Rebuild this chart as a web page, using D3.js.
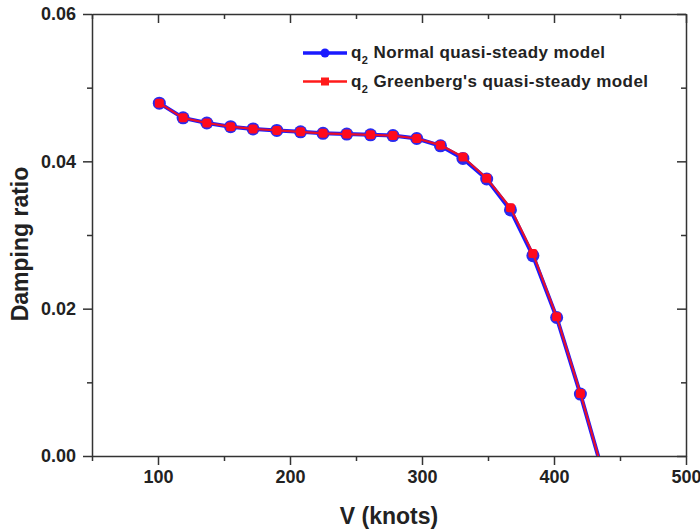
<!DOCTYPE html>
<html>
<head>
<meta charset="utf-8">
<script src="https://cdn.jsdelivr.net/npm/d3@7"></script>
<style>
  body { margin: 0; background: #fff; }
  svg { font-family: "Liberation Sans", Arial, sans-serif; font-weight: bold; }
  .axis path, .axis line { stroke: #333; stroke-width: 1.5; }
  .axis text { fill: #222; font-size: 18px; font-weight: bold; }
</style>
</head>
<body>
<div class="chart"></div>
<script>
// Data
const speeds = [101, 119, 137, 155, 172, 190, 208, 225, 243, 261, 278, 296, 314, 331, 349, 367, 384, 402, 420, 439]
const normalModel = [0.0479, 0.0459, 0.0452, 0.0447, 0.0444, 0.0442, 0.0440, 0.0438, 0.0437, 0.0436, 0.0435, 0.0431, 0.0421, 0.0404, 0.0376, 0.0334, 0.0272, 0.0188, 0.0084, -0.0035]
const greenbergModel = [0.0479, 0.0459, 0.0452, 0.0447, 0.0444, 0.0442, 0.0440, 0.0438, 0.0437, 0.0436, 0.0435, 0.0431, 0.0422, 0.0406, 0.0377, 0.0337, 0.0275, 0.0189, 0.0085, -0.0035]
const xMajor = [100, 200, 300, 400, 500]
const xMinor = [50, 150, 250, 350, 450]
const yMajor = [0, 0.02, 0.04, 0.06]
const yMinor = [0.01, 0.03, 0.05]
const legendNames = ["Normal quasi-steady model", "Greenberg's quasi-steady model"]

// Dimensions
let dimensions = {
    width: 700,
    height: 531,
    margins: { top: 14, right: 14, bottom: 75, left: 92 }
}
dimensions.ctrWidth = dimensions.width - dimensions.margins.left - dimensions.margins.right
dimensions.ctrHeight = dimensions.height - dimensions.margins.top - dimensions.margins.bottom

const svg = d3.select('.chart')
    .append('svg')
    .attr('width', dimensions.width)
    .attr('height', dimensions.height)

const ctr = svg.append('g')
    .attr('transform', `translate(${dimensions.margins.left}, ${dimensions.margins.top})`)

const xScale = d3.scaleLinear()
    .domain([50, 500])
    .range([0, dimensions.ctrWidth])

const yScale = d3.scaleLinear()
    .domain([0, 0.06])
    .range([dimensions.ctrHeight, 0])

svg.append('defs').append('clipPath')
    .attr('id', 'plot-clip')
    .append('rect')
    .attr('width', dimensions.ctrWidth)
    .attr('height', dimensions.ctrHeight)

// Axes: bottom/left ticks point out, top/right ticks point in
function addAxis(axisFn, scale, major, minor, size, transform, labels) {
    const minorG = ctr.append('g').classed('axis', true).attr('transform', transform)
    minorG.call(axisFn(scale).tickValues(minor).tickSize(size * 5 / 9).tickSizeOuter(0).tickFormat(''))
    minorG.select('.domain').remove()
    const g = ctr.append('g').classed('axis', true).attr('transform', transform)
    const ax = axisFn(scale).tickValues(major).tickSize(size).tickSizeOuter(0)
    if (labels) ax.tickFormat(labels)
    else ax.tickFormat('')
    g.call(ax)
    return g
}

addAxis(d3.axisBottom, xScale, xMajor, xMinor, 9, `translate(0, ${dimensions.ctrHeight})`, d3.format('d'))
    .call(g => g.selectAll('text').attr('y', 14))
addAxis(d3.axisTop, xScale, xMajor, xMinor, -9, 'translate(0,0)', null)
addAxis(d3.axisLeft, yScale, yMajor, yMinor, 9, 'translate(0,0)', d3.format('.2f'))
    .call(g => g.selectAll('text').attr('x', -16))
addAxis(d3.axisRight, yScale, yMajor, yMinor, -9, `translate(${dimensions.ctrWidth}, 0)`, null)

// Axis titles
svg.append('text')
    .attr('x', dimensions.margins.left + dimensions.ctrWidth / 2)
    .attr('y', 524)
    .attr('text-anchor', 'middle')
    .style('font-size', '23px')
    .attr('fill', '#222')
    .text('V (knots)')

svg.append('text')
    .attr('transform', 'translate(28, 244) rotate(-90)')
    .attr('text-anchor', 'middle')
    .style('font-size', '23px')
    .attr('fill', '#222')
    .text('Damping ratio')

// Lines and markers
const plot = ctr.append('g').attr('clip-path', 'url(#plot-clip)')

const blueData = speeds.map((v, i) => [v, normalModel[i]])
const redData = speeds.map((v, i) => [v, greenbergModel[i]])

const line = d3.line()
    .x(d => xScale(d[0]))
    .y(d => yScale(d[1]))

plot.append('path')
    .datum(blueData)
    .attr('fill', 'none')
    .attr('stroke', '#1a1aff')
    .attr('stroke-width', 4)
    .attr('d', line)

plot.selectAll('circle.normal')
    .data(blueData)
    .join('circle')
    .classed('normal', true)
    .attr('cx', d => xScale(d[0]))
    .attr('cy', d => yScale(d[1]))
    .attr('r', 6.5)
    .attr('fill', '#2a2aee')

plot.append('path')
    .datum(redData)
    .attr('fill', 'none')
    .attr('stroke', '#e8102a')
    .attr('stroke-width', 2.2)
    .attr('d', line)

plot.selectAll('rect.greenberg')
    .data(redData)
    .join('rect')
    .classed('greenberg', true)
    .attr('x', d => xScale(d[0]) - 4.5)
    .attr('y', d => yScale(d[1]) - 4.5)
    .attr('width', 9)
    .attr('height', 9)
    .attr('rx', 2.5)
    .attr('fill', '#ff0a1e')

// Legend
const legend = svg.append('g')
const legendColors = ['#1a1aff', '#ff1a1a']
legendNames.forEach((name, i) => {
    const y = 53 + i * 28.5
    legend.append('line')
        .attr('x1', 303).attr('x2', 347)
        .attr('y1', y).attr('y2', y)
        .attr('stroke', legendColors[i])
        .attr('stroke-width', i === 0 ? 3.5 : 2.5)
    if (i === 0) {
        legend.append('circle').attr('cx', 325).attr('cy', y).attr('r', 4.5).attr('fill', legendColors[i])
    } else {
        legend.append('rect').attr('x', 321).attr('y', y - 4).attr('width', 8).attr('height', 8).attr('fill', legendColors[i])
    }
    const t = legend.append('text')
        .attr('x', 351)
        .attr('y', y + 5)
        .style('font-size', '17px')
        .style('letter-spacing', '0.4px')
        .attr('fill', '#222')
    t.append('tspan').text('q')
    t.append('tspan').attr('dy', 6).style('font-size', '11px').text('2')
    t.append('tspan').attr('dy', -6).text(' ' + name)
})
</script>
</body>
</html>
